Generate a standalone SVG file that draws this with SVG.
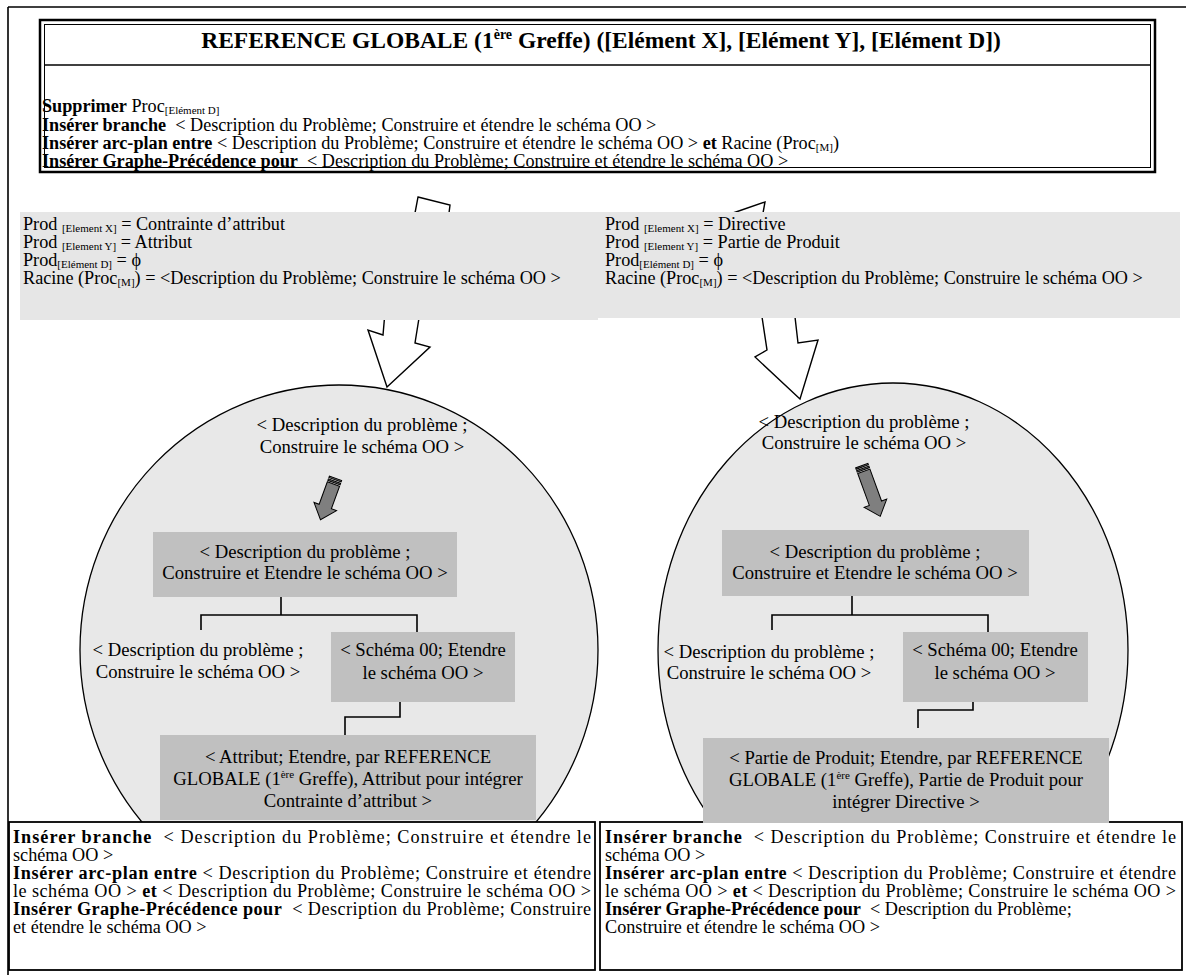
<svg xmlns="http://www.w3.org/2000/svg" width="1186" height="975" viewBox="0 0 1186 975">
<style>
text{font-family:"Liberation Serif","Times New Roman",serif;fill:#000}
.b{font-weight:bold}
.c{text-anchor:middle;font-size:18.7px}
.body{font-size:18.2px}
.sub{font-size:11px}
.info{fill:#e6e6e6}
.inner{fill:#c0c0c0}
.circ{fill:#e8e8e8;stroke:#000;stroke-width:1.3}
.ln{fill:none;stroke:#000;stroke-width:1.6}
.bolt{fill:#fff;stroke:#000;stroke-width:1.4;stroke-linejoin:miter}
.sarrow{fill:#7f7f7f;stroke:#000;stroke-width:1}
.bbox{fill:#fff;stroke:#000;stroke-width:1.8}
</style>
<rect width="1186" height="975" fill="#fff"/>
<path d="M8,7 H1186 M8,7 V975" class="ln" stroke-width="1.2"/>

<g id="circle-left">
<ellipse cx="339" cy="650" rx="259" ry="265" class="circ"/>
<text class="c" x="362" y="431">&lt; Description du problème ;</text>
<text class="c" x="362" y="453">Construire le schéma OO &gt;</text>
</g>
<g id="circle-right">
<ellipse cx="893" cy="650" rx="235" ry="267" class="circ"/>
<text class="c" x="864" y="428">&lt; Description du problème ;</text>
<text class="c" x="864" y="449">Construire le schéma OO &gt;</text>
</g>

<g id="connectors">
<polygon class="bolt" points="418,197 450,205 449,213 420,312 415,343 430,347 387,387 368,330 383,335 385,312 415,213"/>
<polygon class="bolt" points="733,213 765,202 763,213 795,317 798,343 818,340 800,399 755,357 767,350 762,317"/>
<path class="ln" d="M281,597 V615 M201,630 V615 H417 V632"/>
<path class="ln" d="M852,596 V615 M772,630 V615 H988 V632"/>
<path class="ln" d="M400,702 V717 H345 V735"/>
<path class="ln" d="M973,702 V710 H918 V728"/>
<g transform="translate(328,499) rotate(20)">
<rect class="sarrow" x="-6.5" y="-22" width="13" height="1.5"/>
<rect class="sarrow" x="-6.5" y="-19" width="13" height="1.5"/>
<polygon class="sarrow" points="-6.5,-16 6.5,-16 6.5,8 12,8 0,22 -12,8 -6.5,8"/>
</g>
<g transform="translate(871,491) rotate(-20)">
<rect class="sarrow" x="-6.5" y="-27" width="13" height="1.5"/>
<rect class="sarrow" x="-6.5" y="-24" width="13" height="1.5"/>
<polygon class="sarrow" points="-6.5,-21 6.5,-21 6.5,13 12,13 0,27 -12,13 -6.5,13"/>
</g>
</g>

<g id="info-left">
<rect class="info" x="20" y="212" width="578" height="108"/>
<text class="body" x="23" y="230">Prod <tspan class="sub" dy="2">[Element X]</tspan><tspan dy="-2"> = Contrainte d’attribut</tspan></text>
<text class="body" x="23" y="248">Prod <tspan class="sub" dy="2">[Element Y]</tspan><tspan dy="-2"> = Attribut</tspan></text>
<text class="body" x="23" y="266">Prod<tspan class="sub" dy="2">[Elément D]</tspan><tspan dy="-2"> = ϕ</tspan></text>
<text class="body" x="23" y="284">Racine (Proc<tspan class="sub" dy="2">[M]</tspan><tspan dy="-2">) = &lt;Description du Problème; Construire le schéma OO &gt;</tspan></text>
</g>
<g id="info-right">
<rect class="info" x="592" y="212" width="588" height="106"/>
<text class="body" x="605" y="230">Prod <tspan class="sub" dy="2">[Element X]</tspan><tspan dy="-2"> = Directive</tspan></text>
<text class="body" x="605" y="248">Prod <tspan class="sub" dy="2">[Element Y]</tspan><tspan dy="-2"> = Partie de Produit</tspan></text>
<text class="body" x="605" y="266">Prod<tspan class="sub" dy="2">[Elément D]</tspan><tspan dy="-2"> = ϕ</tspan></text>
<text class="body" x="605" y="284">Racine (Proc<tspan class="sub" dy="2">[M]</tspan><tspan dy="-2">) = &lt;Description du Problème; Construire le schéma OO &gt;</tspan></text>
</g>

<g id="top-box">
<rect x="40" y="20" width="1115" height="152" fill="#fff" stroke="#000" stroke-width="2.5"/>
<rect x="44.5" y="24.5" width="1106" height="143" fill="none" stroke="#000" stroke-width="1"/>
<line x1="44.5" y1="65" x2="1150.5" y2="65" stroke="#000" stroke-width="1.5"/>
<text class="b" x="601" y="48" font-size="23.5" text-anchor="middle">REFERENCE GLOBALE (1<tspan font-size="14" dy="-9">ère</tspan><tspan dy="9"> Greffe) ([Elément X], [Elément Y], [Elément D])</tspan></text>
<text class="body" x="42" y="112" xml:space="preserve"><tspan class="b">Supprimer</tspan> Proc<tspan class="sub" dy="2">[Elément D]</tspan></text>
<text class="body" x="42" y="130.5" xml:space="preserve"><tspan class="b">Insérer branche</tspan>  &lt; Description du Problème; Construire et étendre le schéma OO &gt;</text>
<text class="body" x="42" y="149" xml:space="preserve"><tspan class="b">Insérer arc-plan entre</tspan> &lt; Description du Problème; Construire et étendre le schéma OO &gt; <tspan class="b">et</tspan> Racine (Proc<tspan class="sub" dy="2">[M]</tspan><tspan dy="-2">)</tspan></text>
<text class="body" x="42" y="167" xml:space="preserve"><tspan class="b">Insérer Graphe-Précédence pour</tspan>  &lt; Description du Problème; Construire et étendre le schéma OO &gt;</text>
</g>

<g id="node-left-1">
<rect class="inner" x="153" y="532" width="304" height="65"/>
<text class="c" x="305" y="558">&lt; Description du problème ;</text>
<text class="c" x="305" y="579">Construire et Etendre le schéma OO &gt;</text>
</g>
<g id="node-left-2">
<text class="c" x="198" y="656">&lt; Description du problème ;</text>
<text class="c" x="198" y="678">Construire le schéma OO &gt;</text>
</g>
<g id="node-left-3">
<rect class="inner" x="331" y="632" width="184" height="70"/>
<text class="c" x="423" y="656">&lt; Schéma 00; Etendre</text>
<text class="c" x="423" y="679">le schéma OO &gt;</text>
</g>
<g id="node-right-1">
<rect class="inner" x="722" y="530" width="307" height="66"/>
<text class="c" x="875" y="558">&lt; Description du problème ;</text>
<text class="c" x="875" y="579">Construire et Etendre le schéma OO &gt;</text>
</g>
<g id="node-right-2">
<text class="c" x="769" y="658">&lt; Description du problème ;</text>
<text class="c" x="769" y="679">Construire le schéma OO &gt;</text>
</g>
<g id="node-right-3">
<rect class="inner" x="903" y="632" width="185" height="70"/>
<text class="c" x="995" y="656">&lt; Schéma 00; Etendre</text>
<text class="c" x="995" y="679">le schéma OO &gt;</text>
</g>

<g id="bottom-left">
<rect class="bbox" x="9" y="822" width="586" height="148"/>
<text class="body" x="13" y="843" textLength="578" lengthAdjust="spacing" xml:space="preserve"><tspan class="b">Insérer branche</tspan>  &lt; Description du Problème; Construire et étendre le</text>
<text class="body" x="13" y="861">schéma OO &gt;</text>
<text class="body" x="13" y="879" textLength="578" lengthAdjust="spacing" xml:space="preserve"><tspan class="b">Insérer arc-plan entre</tspan> &lt; Description du Problème; Construire et étendre</text>
<text class="body" x="13" y="897" textLength="578" lengthAdjust="spacing" xml:space="preserve">le schéma OO &gt; <tspan class="b">et</tspan> &lt; Description du Problème; Construire le schéma OO &gt;</text>
<text class="body" x="13" y="915" textLength="578" lengthAdjust="spacing" xml:space="preserve"><tspan class="b">Insérer Graphe-Précédence pour</tspan>  &lt; Description du Problème; Construire</text>
<text class="body" x="13" y="933">et étendre le schéma OO &gt;</text>
</g>
<g id="bottom-right">
<rect class="bbox" x="600" y="822" width="582" height="148"/>
<text class="body" x="605" y="843" textLength="571" lengthAdjust="spacing" xml:space="preserve"><tspan class="b">Insérer branche</tspan>  &lt; Description du Problème; Construire et étendre le</text>
<text class="body" x="605" y="861">schéma OO &gt;</text>
<text class="body" x="605" y="879" textLength="571" lengthAdjust="spacing" xml:space="preserve"><tspan class="b">Insérer arc-plan entre</tspan> &lt; Description du Problème; Construire et étendre</text>
<text class="body" x="605" y="897" textLength="571" lengthAdjust="spacing" xml:space="preserve">le schéma OO &gt; <tspan class="b">et</tspan> &lt; Description du Problème; Construire le schéma OO &gt;</text>
<text class="body" x="605" y="915" xml:space="preserve"><tspan class="b">Insérer Graphe-Précédence pour</tspan>  &lt; Description du Problème;</text>
<text class="body" x="605" y="933">Construire et étendre le schéma OO &gt;</text>
</g>

<g id="node-left-4">
<rect class="inner" x="160" y="735" width="376" height="85"/>
<text class="c" x="348" y="763">&lt; Attribut; Etendre, par REFERENCE</text>
<text class="c" x="348" y="785">GLOBALE (1<tspan font-size="11" dy="-7">ère</tspan><tspan dy="7"> Greffe), Attribut pour intégrer</tspan></text>
<text class="c" x="348" y="807">Contrainte d’attribut &gt;</text>
</g>
<g id="node-right-4">
<rect class="inner" x="703" y="738" width="406" height="85"/>
<text class="c" x="906" y="764">&lt; Partie de Produit; Etendre, par REFERENCE</text>
<text class="c" x="906" y="786">GLOBALE (1<tspan font-size="11" dy="-7">ère</tspan><tspan dy="7"> Greffe), Partie de Produit pour</tspan></text>
<text class="c" x="906" y="808">intégrer Directive &gt;</text>
</g>
</svg>
